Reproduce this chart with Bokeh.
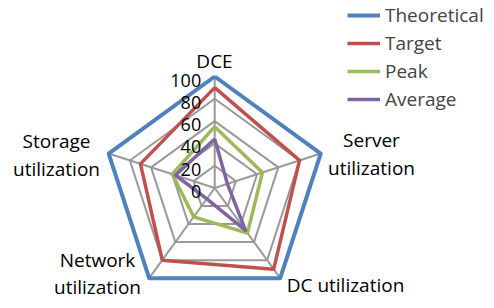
import numpy as np
from bokeh.plotting import figure
from bokeh.models import Range1d, Legend, LegendItem
from bokeh.core.properties import value
from bokeh.embed import file_html
from bokeh.resources import INLINE

# ---- data ----
categories = ["DCE", "Server\nutilization", "DC utilization", "Network\nutilization", "Storage\nutilization"]
series_names = ["Theoretical", "Target", "Peak", "Average"]
theoretical = [100, 100, 100, 100, 100]
target = [90, 80, 90, 80, 70]
peak = [55, 45, 50, 32, 40]
average = [44, 12, 47, 12, 37]
tick_values = [0, 20, 40, 60, 80, 100]
tick_labels = ["0", "20", "40", "60", "80", "100"]

colors = ["#4F81BD", "#C0504D", "#9BBB59", "#8064A2"]
FONT = "Open Sans"
FS = "19px"

# ---- layout (picture pixels) ----
W, H = 486, 300
CX, CY = 214.2, 187.5        # pixel of radar centre
S = 111.5 / 100.0            # pixels per value unit

def px(x, y):
    return (x - CX) / S, (CY - y) / S

n = len(categories)
angles = np.pi / 2 - np.arange(n) * 2 * np.pi / n

def polar(vals):
    v = np.asarray(vals, dtype=float)
    xs = v * np.cos(angles)
    ys = v * np.sin(angles)
    return list(xs) + [xs[0]], list(ys) + [ys[0]]

p = figure(width=W, height=H, output_backend="svg", toolbar_location=None,
           x_range=Range1d((0 - CX) / S, (W - CX) / S),
           y_range=Range1d((CY - H) / S, CY / S),
           min_border=0, outline_line_color=None)
p.axis.visible = False
p.grid.visible = False
p.background_fill_color = "white"

# grid rings and spokes
for t in tick_values[1:]:
    gx, gy = polar([t] * n)
    p.line(gx, gy, line_color="#999999", line_width=2)
top = tick_values[-1]
p.segment(x0=[0] * n, y0=[0] * n, x1=list(top * np.cos(angles)), y1=list(top * np.sin(angles)),
          line_color="#999999", line_width=2)

# series
renderers = []
widths = [4, 3.5, 3.5, 3.5]
for name, vals, col, lw in zip(series_names, [theoretical, target, peak, average], colors, widths):
    sx, sy = polar(vals)
    r = p.line(sx, sy, line_color=col, line_width=lw, line_join="round")
    renderers.append(r)

# tick labels along the DCE axis
p.text(x=[-13.5 / S] * len(tick_values), y=[t - 3.5 / S for t in tick_values], text=tick_labels,
       text_font=value(FONT), text_font_size="18px", text_align="right",
       text_baseline="middle", text_color="black")

# category labels
label_pos = [px(214, 60), px(371, 153.5), px(345, 284), px(97, 273), px(56, 154.5)]
p.text(x=[lp[0] for lp in label_pos], y=[lp[1] for lp in label_pos], text=categories,
       text_font=value(FONT), text_font_size=FS, text_align="center",
       text_baseline="middle", text_color="black", text_line_height=1.05)

legend = Legend(items=[LegendItem(label=nm, renderers=[r]) for nm, r in zip(series_names, renderers)],
                location=(347, 188), padding=0, margin=0, spacing=2,
                glyph_width=33, glyph_height=20, label_height=20, label_standoff=5,
                label_text_font=FONT, label_text_font_size=FS,
                border_line_color=None, background_fill_alpha=0)
p.add_layout(legend)

open("out.html", "w").write(file_html(p, INLINE))
